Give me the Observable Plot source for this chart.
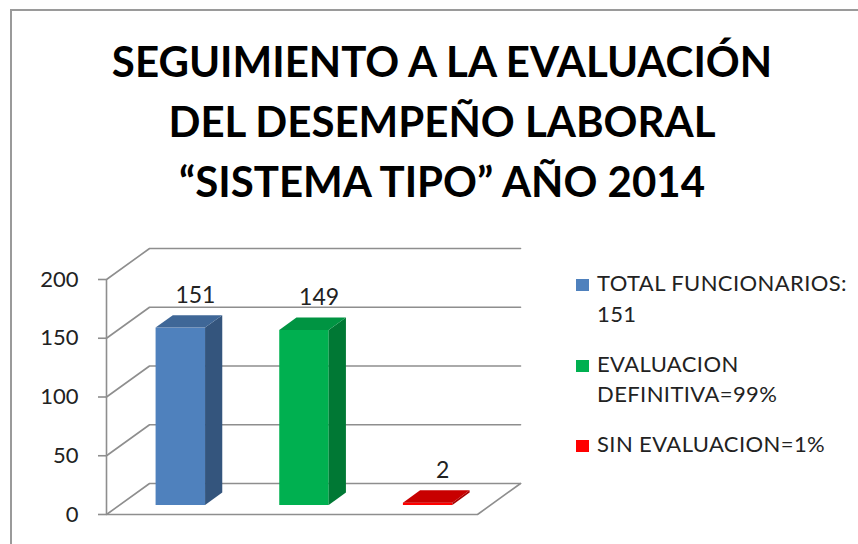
<!DOCTYPE html>
<html><head><meta charset="utf-8">
<script src="https://cdn.jsdelivr.net/npm/d3@7"></script>
<script src="https://cdn.jsdelivr.net/npm/@observablehq/plot@0.6"></script>
<style>
html,body{margin:0;padding:0;background:#fff;}
#root{position:relative;width:858px;height:544px;overflow:hidden;background:#fff;font-family:Lato,"Open Sans",sans-serif;color:#222;}
#frame{position:absolute;left:10px;top:9px;width:1000px;height:1000px;border-left:2px solid #9a9a9a;border-top:2px solid #9a9a9a;}
#title{position:absolute;left:0;top:31px;width:884px;text-align:center;font-weight:700;font-size:42px;line-height:60px;color:#000;margin:0;}
#chart{position:absolute;left:0;top:230px;}
#legend{position:absolute;left:576px;top:268px;width:300px;font-size:22px;letter-spacing:0.4px;line-height:30.5px;}
.item{display:flex;align-items:flex-start;margin-bottom:19.5px;}
.sw{width:13px;height:12px;margin-top:11px;margin-right:8px;flex:none;}
.lb{white-space:pre-line;}
</style>
</head>
<body>
<div id="root">
  <div id="frame"></div>
  <div id="title"></div>
  <div id="chart"></div>
  <div id="legend"></div>
</div>
<script>
// ---- data ----
const titleLines = ["SEGUIMIENTO A LA EVALUACIÓN", "DEL DESEMPEÑO LABORAL", "“SISTEMA TIPO” AÑO 2014"];
const categories = ["TOTAL FUNCIONARIOS:\n151", "EVALUACION\nDEFINITIVA=99%", "SIN EVALUACION=1%"];
const values = [151, 149, 2];
const yTicks = [0, 50, 100, 150, 200];

// ---- styles ----
const frontColors = ["#4F81BD", "#00B050", "#FF0000"];
const topColors = ["#3F6797", "#009442", "#C80000"];
const sideColors = ["#34557D", "#007834", "#A60000"];
const gridColor = "#8e8e8e";

// 3D geometry (in data units of the chart's scales)
const DEPTH_X = 0.348, DEPTH_Y = 26.4;   // full floor depth
const BAR_PLANE = 0.29, BAR_DEPTH = 0.4; // fractions of full depth
const BAR_LEFT = 0.3, BAR_WIDTH = 0.4;   // within each category slot

// title
d3.select("#title").selectAll("div").data(titleLines).join("div").text(d => d);

// legend
const items = d3.select("#legend").selectAll("div.item").data(categories).join("div").attr("class", "item");
items.append("div").attr("class", "sw").style("background", (d, i) => frontColors[i]);
items.append("div").attr("class", "lb").text(d => d);

// bars geometry
const bdx = BAR_DEPTH * DEPTH_X, bdy = BAR_DEPTH * DEPTH_Y;
const bars = categories.map((c, i) => {
  const x1 = i + BAR_LEFT + BAR_PLANE * DEPTH_X;
  return {i, c, v: values[i], x1, x2: x1 + BAR_WIDTH, y0: BAR_PLANE * DEPTH_Y};
});

const nCat = categories.length;
const grid = yTicks.flatMap(t => [
  {t, x: 0, y: t},
  {t, x: DEPTH_X, y: t + DEPTH_Y},
  {t, x: nCat + DEPTH_X, y: t + DEPTH_Y}
]);
const floor = [{x: 0, y: 0}, {x: nCat, y: 0}, {x: nCat + DEPTH_X, y: DEPTH_Y}];

const barMarks = bars.flatMap(b => [
  Plot.rect([b], {x1: "x1", x2: "x2", y1: "y0", y2: d => d.v + d.y0, fill: frontColors[b.i]}),
  Plot.areaY([
    {x: b.x2, y1: b.y0, y2: b.v + b.y0},
    {x: b.x2 + bdx, y1: b.y0 + bdy, y2: b.v + b.y0 + bdy}
  ], {x: "x", y1: "y1", y2: "y2", fill: sideColors[b.i]}),
  Plot.areaX([
    {y: b.v + b.y0, x1: b.x1, x2: b.x2},
    {y: b.v + b.y0 + bdy, x1: b.x1 + bdx, x2: b.x2 + bdx}
  ], {y: "y", x1: "x1", x2: "x2", fill: topColors[b.i]})
]);

const chart = Plot.plot({
  width: 545,
  height: 314,
  marginLeft: 106,
  marginRight: 68,
  marginTop: 49,
  marginBottom: 30,
  x: {domain: [0, nCat], axis: null},
  y: {domain: [0, 200]},
  style: {fontFamily: "Lato, 'Open Sans', sans-serif", fontSize: "22px", color: "#222", background: "transparent", overflow: "visible"},
  marks: [
    Plot.line(grid, {x: "x", y: "y", z: "t", stroke: gridColor, strokeWidth: 1.6}),
    Plot.line(floor, {x: "x", y: "y", stroke: gridColor, strokeWidth: 1.6}),
    Plot.ruleX([0], {y1: 0, y2: 200, stroke: gridColor, strokeWidth: 1.6}),
    Plot.axisY({ticks: yTicks, tickSize: 8, tickPadding: 20, label: null, stroke: gridColor, strokeWidth: 1.6, fill: "#222", fontSize: 22}),
    ...barMarks,
    Plot.text(bars, {
      x: d => (d.x1 + d.x2) / 2 + bdx * 0.85,
      y: d => d.v + d.y0 + bdy,
      text: d => String(d.v),
      lineAnchor: "bottom",
      dy: -13,
      fontSize: 23,
      fill: "#222"
    })
  ]
});
document.getElementById("chart").appendChild(chart);
</script>
</body></html>
